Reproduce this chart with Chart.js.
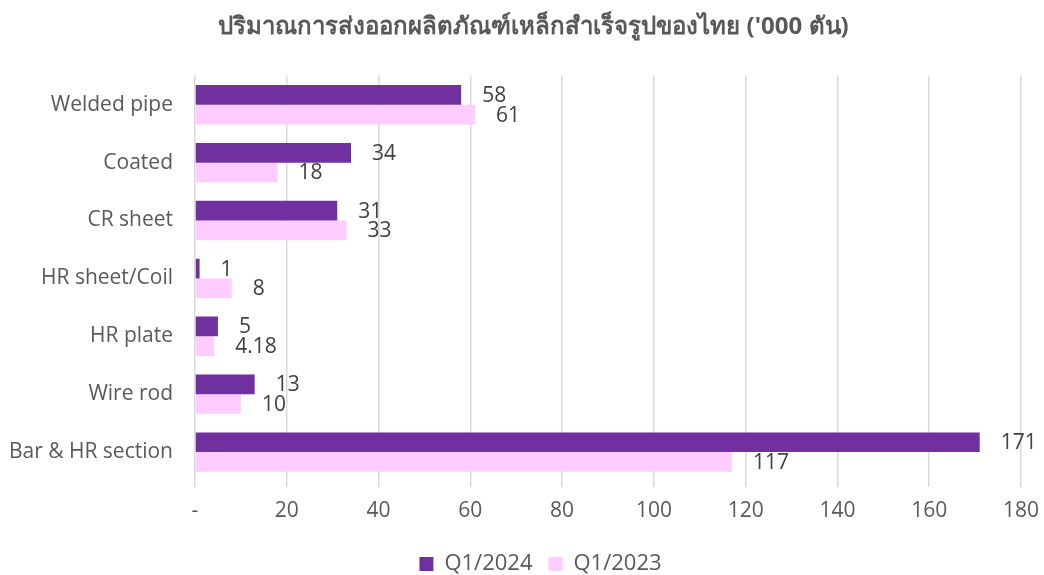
<!DOCTYPE html>
<html>
<head>
<meta charset="utf-8">
<script src="https://cdn.jsdelivr.net/npm/chart.js@4/dist/chart.umd.min.js"></script>
<style>
  body { margin: 0; background: #fff; }
  #wrap { width: 1044px; height: 575px; }
</style>
</head>
<body>
<div id="wrap"><canvas id="barchart"></canvas></div>
<script>
var categories = ['Welded pipe', 'Coated', 'CR sheet', 'HR sheet/Coil', 'HR plate', 'Wire rod', 'Bar & HR section'];
var q1_2024 = [58, 34, 31, 1, 5, 13, 171];
var q1_2023 = [61, 18, 33, 8, 4.18, 10, 117];
var labels2024 = ['58', '34', '31', '1', '5', '13', '171'];
var labels2023 = ['61', '18', '33', '8', '4.18', '10', '117'];
var xTicks = [0, 20, 40, 60, 80, 100, 120, 140, 160, 180];

var FONT = "'Open Sans', 'Noto Sans', sans-serif";

// etiquetas de valor al final de cada barra
var valueLabels = {
  id: 'valueLabels',
  afterLayout: function (chart) {
    // centrar título y leyenda un poco más a la derecha, como en el original
    if (chart.titleBlock) chart.titleBlock.left = 46;
    if (chart.legend) chart.legend.left = 60;
  },
  afterDatasetsDraw: function (chart) {
    var ctx = chart.ctx;
    var textos = [labels2024, labels2023];
    ctx.save();
    ctx.font = '21px ' + FONT;
    ctx.fillStyle = '#404040';
    ctx.textAlign = 'left';
    ctx.textBaseline = 'middle';
    chart.data.datasets.forEach(function (ds, i) {
      chart.getDatasetMeta(i).data.forEach(function (bar, j) {
        ctx.fillText(textos[i][j], bar.x + 21, bar.y + 1);
      });
    });
    ctx.restore();
  }
};

var ctx = document.getElementById('barchart').getContext('2d');
var grafico = new Chart(ctx, {
  type: 'bar',
  data: {
    labels: categories,
    datasets: [
      { label: 'Q1/2024', data: q1_2024, backgroundColor: '#7030A0', categoryPercentage: 0.68, barPercentage: 1.0 },
      { label: 'Q1/2023', data: q1_2023, backgroundColor: '#FFCCFF', categoryPercentage: 0.68, barPercentage: 1.0 }
    ]
  },
  options: {
    indexAxis: 'y',
    responsive: true,
    maintainAspectRatio: false,
    animation: false,
    layout: { padding: { left: 0, right: 23, top: 13, bottom: -10 } },
    plugins: {
      title: {
        display: true,
        text: "ปริมาณการส่งออกผลิตภัณฑ์เหล็กสำเร็จรูปของไทย ('000 ตัน)",
        color: '#595959',
        font: { family: FONT, size: 24, weight: 'bold' },
        padding: { top: 0, bottom: 34 }
      },
      legend: {
        position: 'bottom',
        labels: {
          color: '#595959',
          font: { family: FONT, size: 22 },
          boxWidth: 14,
          boxHeight: 14,
          padding: 16
        }
      },
      tooltip: { enabled: false }
    },
    scales: {
      x: {
        min: 0,
        max: 180,
        afterBuildTicks: function (scale) {
          scale.ticks = xTicks.map(function (v) { return { value: v }; });
        },
        afterFit: function (scale) {
          scale.height = 56;
          scale.paddingLeft = 0;
          scale.paddingRight = 0;
        },
        ticks: {
          color: '#595959',
          font: { family: FONT, size: 21 },
          padding: 11,
          callback: function (v) { return v === 0 ? '-' : v; }
        },
        grid: { color: '#D9D9D9', lineWidth: 1.5, tickLength: 6 },
        border: { display: false }
      },
      y: {
        afterFit: function (scale) { scale.width = 195; },
        ticks: {
          color: '#595959',
          font: { family: FONT, size: 21 },
          padding: 22
        },
        grid: { display: false, drawTicks: false },
        border: { display: false }
      }
    }
  },
  plugins: [valueLabels]
});
</script>
</body>
</html>
